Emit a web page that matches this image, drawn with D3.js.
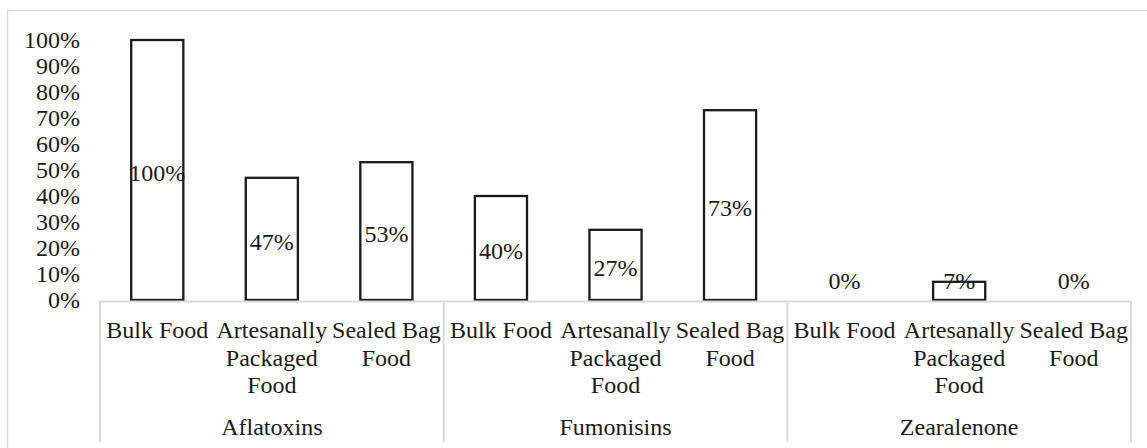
<!DOCTYPE html>
<html>
<head>
<meta charset="utf-8">
<script src="https://cdn.jsdelivr.net/npm/d3@7"></script>
<style>
  html, body { margin: 0; padding: 0; background: #fff; }
  svg { display: block; }
</style>
</head>
<body>
<svg id="chart" width="1147" height="448"></svg>
<script>
// Mycotoxin groups and food handling types
const groups = ["Aflatoxins", "Fumonisins", "Zearalenone"];
const foodTypes = ["Bulk Food", "Artesanally Packaged Food", "Sealed Bag Food"];
const foodTypeLines = [["Bulk Food"], ["Artesanally", "Packaged", "Food"], ["Sealed Bag", "Food"]];

// Share of positive samples per food type, one array per toxin
const aflatoxins = [1.00, 0.47, 0.53];
const fumonisins = [0.40, 0.27, 0.73];
const zearalenone = [0.00, 0.07, 0.00];

// Y axis ticks
const yTicks = [0, 0.1, 0.2, 0.3, 0.4, 0.5, 0.6, 0.7, 0.8, 0.9, 1.0];

const FONT = "Liberation Serif";
const TEXT_COLOR = "#1a1a1a";
const pct = d3.format(".0%");

const seriesByGroup = [aflatoxins, fumonisins, zearalenone];
const rows = [];
groups.forEach((g, gi) => {
  foodTypes.forEach((f, fi) => {
    rows.push({ key: g + "|" + f, group: g, gi, fi, value: seriesByGroup[gi][fi] });
  });
});

const svg = d3.select("#chart");
const W = 1147, H = 448;
const plot = { left: 100, right: 1131, top: 40, bottom: 300 };

function styleText(sel) {
  return sel.attr("font-family", FONT)
    .style("font-family", FONT)
    .attr("font-size", 24)
    .attr("fill", TEXT_COLOR);
}

// Outer frame (top and left edges)
svg.append("line").attr("x1", 7).attr("x2", W).attr("y1", 10.5).attr("y2", 10.5)
  .attr("stroke", "#d9d9d9").attr("stroke-width", 1.5);
svg.append("line").attr("x1", 7.5).attr("x2", 7.5).attr("y1", 10).attr("y2", H)
  .attr("stroke", "#d9d9d9").attr("stroke-width", 1.5);

const x = d3.scaleBand()
  .domain(rows.map(d => d.key))
  .range([plot.left, plot.right])
  .paddingInner(0.545)
  .paddingOuter(0.2725);

const y = d3.scaleLinear().domain([0, 1]).range([plot.bottom, plot.top]);

// Y axis labels only
const yAxis = svg.append("g")
  .attr("transform", `translate(${plot.left},0)`)
  .call(d3.axisLeft(y).tickValues(yTicks).tickFormat(pct).tickSize(0).tickPadding(20));
yAxis.attr("font-family", FONT);
yAxis.select(".domain").remove();
styleText(yAxis.selectAll("text"));

// Bars
svg.append("g").selectAll("rect")
  .data(rows.filter(d => d.value > 0))
  .join("rect")
  .attr("x", d => x(d.key))
  .attr("width", x.bandwidth())
  .attr("y", d => y(d.value))
  .attr("height", d => y(0) - y(d.value))
  .attr("fill", "#fff")
  .attr("stroke", "#1a1a1a")
  .attr("stroke-width", 2.3);

// Category axis line and group separators
svg.append("line").attr("x1", plot.left).attr("x2", plot.right)
  .attr("y1", plot.bottom + 1.5).attr("y2", plot.bottom + 1.5)
  .attr("stroke", "#d9d9d9").attr("stroke-width", 2);

const step = x.step();
const groupEdges = d3.range(groups.length + 1).map(i => plot.left + i * step * foodTypes.length);
svg.append("g").selectAll("line")
  .data(groupEdges)
  .join("line")
  .attr("x1", d => d).attr("x2", d => d)
  .attr("y1", plot.bottom + 1).attr("y2", 442)
  .attr("stroke", "#d9d9d9").attr("stroke-width", 2);

// Value labels centred in each bar
styleText(svg.append("g").selectAll("text")
  .data(rows)
  .join("text")
  .attr("x", d => x(d.key) + x.bandwidth() / 2)
  .attr("y", d => Math.min(y(d.value / 2) + 3, plot.bottom - 19))
  .attr("text-anchor", "middle")
  .attr("dominant-baseline", "central")
  .text(d => pct(d.value)));

// Food type labels (wrapped)
const catG = svg.append("g");
rows.forEach(d => {
  const cx = x(d.key) + x.bandwidth() / 2;
  const t = styleText(catG.append("text")
    .attr("x", cx)
    .attr("y", 338)
    .attr("text-anchor", "middle"));
  foodTypeLines[d.fi].forEach((line, li) => {
    t.append("tspan")
      .attr("x", cx)
      .attr("y", 338 + li * 27.5)
      .text(line);
  });
});

// Toxin group labels
styleText(svg.append("g").selectAll("text")
  .data(groups)
  .join("text")
  .attr("x", (d, i) => (groupEdges[i] + groupEdges[i + 1]) / 2)
  .attr("y", 435)
  .attr("text-anchor", "middle")
  .text(d => d));
</script>
</body>
</html>
